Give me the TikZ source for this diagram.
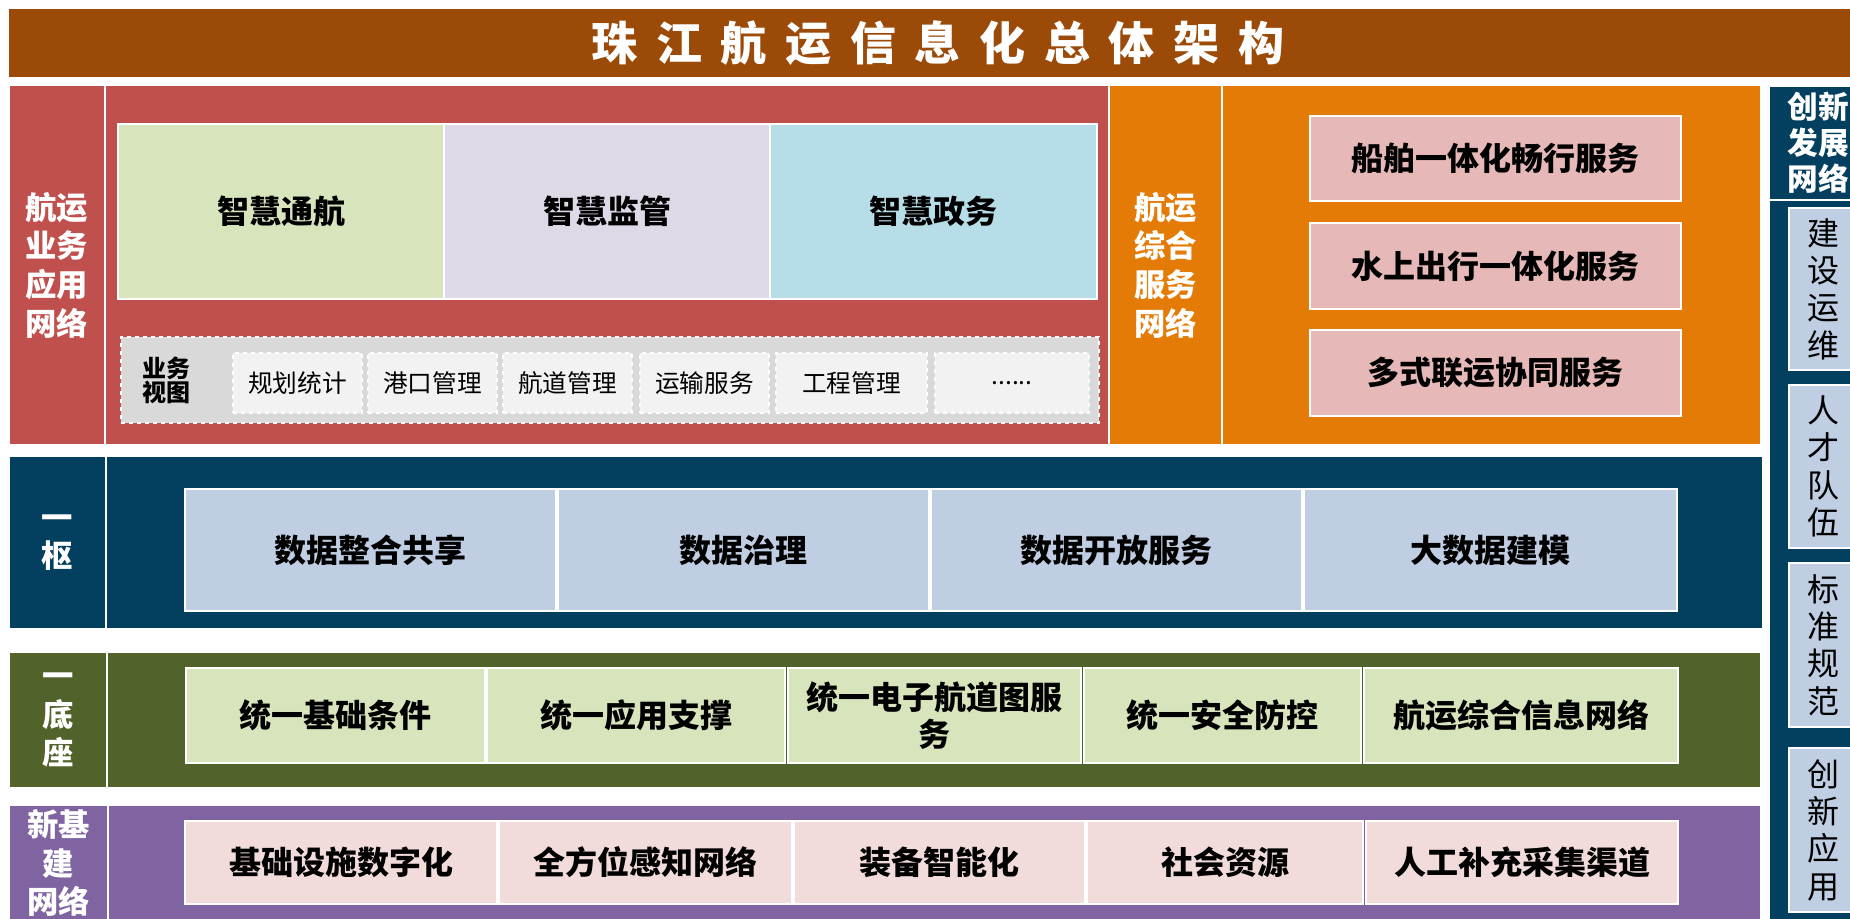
\documentclass[tikz,border=0pt]{standalone}
\usepackage{fontspec}
\setmainfont{Noto Sans CJK SC}
\IfFontExistsTF{FandolSong-Bold.otf}{\newfontfamily\songb{FandolSong-Bold.otf}}{\newcommand\songb{\bfseries}}
\definecolor{cbrown}{HTML}{9B4A07}
\definecolor{cred}{HTML}{C0504D}
\definecolor{corange}{HTML}{E47B06}
\definecolor{cnavy}{HTML}{033F5F}
\definecolor{colive}{HTML}{51622A}
\definecolor{cpurple}{HTML}{7F64A1}
\definecolor{cgreen}{HTML}{D7E4BC}
\definecolor{clav}{HTML}{DFD8E7}
\definecolor{clblue}{HTML}{B6DDE8}
\definecolor{cpink}{HTML}{E6B9B8}
\definecolor{cppink}{HTML}{F2DCDB}
\definecolor{csteel}{HTML}{BFCEE2}
\definecolor{cgray}{HTML}{D9D9D9}
\definecolor{clgray}{HTML}{F2F2F2}
\newcommand\bx[7]{\node[#6, minimum width={(#4-#2)*0.75pt}, minimum height={(#5-#3)*0.75pt}] (#1) at ({(#2+#4)/2},{(#3+#5)/2}) {#7};}
\newcommand\tsp{\hspace{14pt}}
\tikzset{
  every node/.style={inner sep=0pt, outer sep=0pt},
  bandbox/.style={draw=white, line width=1.5pt},
  lbl/.style={bandbox, text=white, align=center, font=\songb\fontsize{23.5}{29}\selectfont},
  cell/.style={draw=white, line width=1.5pt, text=black, align=center, font=\bfseries\fontsize{24}{28}\selectfont},
  tab/.style={draw=white, dashed, line width=1pt, fill=clgray, text=black, font=\fontsize{18.5}{22}\selectfont},
  side/.style={draw=white, line width=1.5pt, fill=csteel, text=black, align=center, font=\fontsize{24}{28}\selectfont}
}
\begin{document}
\begin{tikzpicture}[x=0.75pt,y=-0.75pt]
\useasboundingbox (0,0) rectangle (1850,919);
\clip (0,0) rectangle (1850,919);
\fill[white] (0,0) rectangle (1850,919);
% title
\bx{titlebar}{9}{9}{1900}{77}{fill=cbrown}{}
\node[text=white, font=\songb\fontsize{34.5}{40}\selectfont] (title) at (938,43)
  {珠\tsp 江\tsp 航\tsp 运\tsp 信\tsp 息\tsp 化\tsp 总\tsp 体\tsp 架\tsp 构};
% red band
\bx{redlbl}{9}{85}{105}{445}{lbl, fill=cred}{航运\\业务\\应用\\网络}
\bx{redbody}{105}{85}{1109}{445}{bandbox, fill=cred}{}
\bx{zh1}{118}{124}{444}{299}{cell, fill=cgreen}{智慧通航}
\bx{zh2}{444}{124}{770}{299}{cell, fill=clav}{智慧监管}
\bx{zh3}{770}{124}{1097}{299}{cell, fill=clblue}{智慧政务}
\bx{view}{121}{337}{1099}{423}{draw=white, dashed, line width=1.2pt, fill=cgray}{}
\node[text=black, align=left, font=\songb\fontsize{18}{17}\selectfont] (viewlbl) at (166,380) {业务\\视图};
\bx{t1}{233}{353}{362}{413}{tab}{规划统计}
\bx{t2}{368}{353}{497}{413}{tab}{港口管理}
\bx{t3}{503}{353}{632}{413}{tab}{航道管理}
\bx{t4}{640}{353}{769}{413}{tab}{运输服务}
\bx{t5}{776}{353}{927}{413}{tab}{工程管理}
\bx{t6}{935}{353}{1089}{413}{tab}{......}
% orange band
\bx{orlbl}{1109}{85}{1222}{445}{lbl, fill=corange}{航运\\综合\\服务\\网络}
\bx{orbody}{1222}{85}{1761}{445}{bandbox, fill=corange}{}
\bx{s1}{1310}{116}{1681}{201}{cell, fill=cpink}{船舶一体化畅行服务}
\bx{s2}{1310}{223}{1681}{309}{cell, fill=cpink}{水上出行一体化服务}
\bx{s3}{1310}{330}{1681}{416}{cell, fill=cpink}{多式联运协同服务}
% navy band
\bx{nvlbl}{9}{456}{106}{629}{lbl, fill=cnavy}{一\\枢}
\bx{nvbody}{106}{456}{1763}{629}{bandbox, fill=cnavy}{}
\bx{d1}{185}{489}{556}{611}{cell, fill=csteel}{数据整合共享}
\bx{d2}{558}{489}{929}{611}{cell, fill=csteel}{数据治理}
\bx{d3}{931}{489}{1302}{611}{cell, fill=csteel}{数据开放服务}
\bx{d4}{1304}{489}{1677}{611}{cell, fill=csteel}{大数据建模}
% olive band
\bx{ollbl}{9}{652}{107}{788}{lbl, fill=colive}{一\\底\\座}
\bx{olbody}{107}{652}{1761}{788}{bandbox, fill=colive}{}
\bx{b1}{186}{668}{485}{763}{cell, fill=cgreen}{统一基础条件}
\bx{b2}{487}{668}{785}{763}{cell, fill=cgreen}{统一应用支撑}
\bx{b3}{788}{668}{1081}{763}{cell, fill=cgreen}{统一电子航道图服\\务}
\bx{b4}{1084}{668}{1361}{763}{cell, fill=cgreen}{统一安全防控}
\bx{b5}{1364}{668}{1678}{763}{cell, fill=cgreen}{航运综合信息网络}
% purple band
\bx{pplbl}{9}{805}{108}{921}{lbl, fill=cpurple}{新基\\建\\网络}
\bx{ppbody}{108}{805}{1761}{930}{bandbox, fill=cpurple}{}
\bx{n1}{185}{821}{497}{904}{cell, fill=cppink}{基础设施数字化}
\bx{n2}{499}{821}{792}{904}{cell, fill=cppink}{全方位感知网络}
\bx{n3}{794}{821}{1085}{904}{cell, fill=cppink}{装备智能化}
\bx{n4}{1087}{821}{1363}{904}{cell, fill=cppink}{社会资源}
\bx{n5}{1366}{821}{1678}{904}{cell, fill=cppink}{人工补充采集渠道}
% right column
\bx{rhead}{1769}{86}{1868}{200}{lbl, fill=cnavy, font=\bfseries\fontsize{23}{27}\selectfont}{创新\\发展\\网络}
\bx{rbody}{1769}{200}{1868}{930}{bandbox, fill=cnavy}{}
\bx{r1}{1789}{208}{1857}{370}{side}{建\\设\\运\\维}
\bx{r2}{1789}{385}{1857}{548}{side}{人\\才\\队\\伍}
\bx{r3}{1789}{563}{1857}{727}{side}{标\\准\\规\\范}
\bx{r4}{1789}{748}{1857}{912}{side}{创\\新\\应\\用}
\end{tikzpicture}
\end{document}
